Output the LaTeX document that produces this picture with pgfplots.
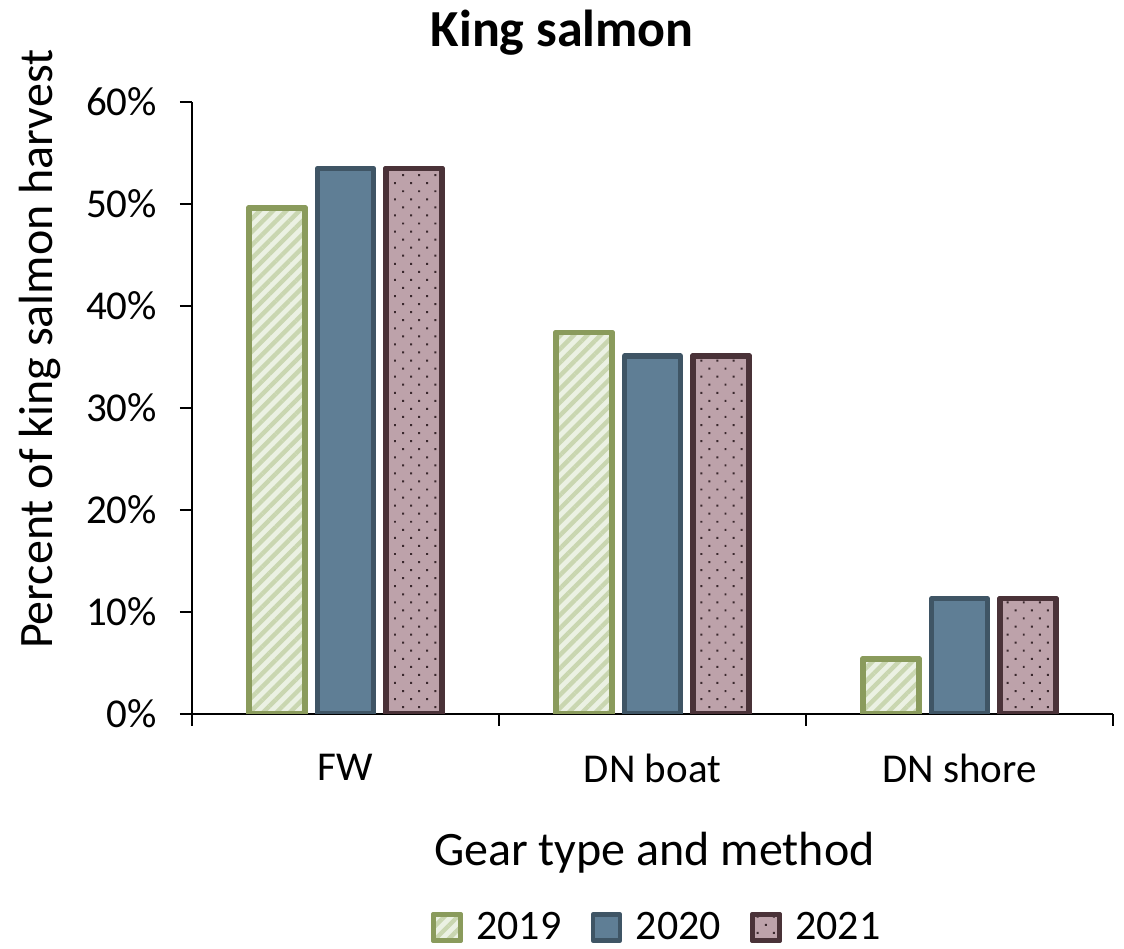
\documentclass[border=0pt]{standalone}
\usepackage{fontspec}
\setmainfont{Carlito}
\usepackage{pgfplots}
\pgfplotsset{compat=1.18}
\usetikzlibrary{patterns.meta}

\definecolor{gfill}{HTML}{EBF1E3}
\definecolor{gstripe}{HTML}{C9D6B0}
\definecolor{gline}{HTML}{8A9B5C}
\definecolor{bfill}{HTML}{5F7E95}
\definecolor{bline}{HTML}{3F5565}
\definecolor{pfill}{HTML}{BDA2AA}
\definecolor{pline}{HTML}{4A3238}
\definecolor{pdot}{HTML}{3A282D}

% 1 px of the reference = 0.5pt
\begin{document}
\begin{tikzpicture}
\begin{axis}[name=ax,
  scale only axis, width=460.5pt, height=306pt,
  xmin=-0.5, xmax=2.5, ymin=0, ymax=60,
  axis x line=bottom, axis y line=left,
  axis line style={-, line width=0.9pt, black},
  xtick={0,1,2}, xticklabels={FW, DN boat, DN shore},
  minor xtick={-0.5,0.5,1.5,2.5},
  major x tick style={draw=none},
  minor x tick style={black, line width=0.9pt},
  ytick={0,10,...,60},
  y tick style={black, line width=0.9pt},
  tick align=outside, major tick length=6pt, minor tick length=6pt,
  yticklabel={\pgfmathprintnumber{\tick}\%},
  /pgf/number format/assume math mode=true,
  ticklabel style={font=\fontsize{20.5}{24}\selectfont},
  xticklabel style={yshift=-10.5pt},
  yticklabel style={xshift=-8pt},
  xlabel={Gear type and method},
  xlabel style={font=\fontsize{24}{28}\selectfont, at={(axis description cs:0.502,-0.247)}, anchor=base},
  ylabel={Percent of king salmon harvest},
  ylabel style={font=\fontsize{24}{28}\selectfont, at={(axis description cs:-0.165,0.596)}, anchor=center},
  every axis title shift=0pt,
  title={King salmon},
  title style={font=\fontsize{26}{30}\selectfont\bfseries, at={(axis description cs:0.402,1.09)}, anchor=base, yshift=0pt},
  ybar, bar width=0.182,
  legend columns=3,
  legend style={draw=none, at={(axis description cs:0.505,-0.349)}, anchor=center,
    font=\fontsize{21}{25}\selectfont,
    nodes={inner xsep=3pt},
    /tikz/every even column/.append style={column sep=10pt}},
  legend image code/.code={\draw[#1, line width=2.2pt] (0pt,-6.5pt) rectangle (13.5pt,6.5pt);
    \path (-1.5pt,0pt) (17pt,0pt);},
]
\addplot[bar shift=-0.223, draw=gline, line width=2.7pt, line join=round,
  preaction={fill=gfill},
  pattern={Lines[angle=45,distance=4.7pt,line width=2.2pt]}, pattern color=gstripe]
  coordinates {(0,49.6) (1,37.4) (2,5.4)};
\addplot[bar shift=0, draw=bline, line width=2.7pt, line join=round, fill=bfill]
  coordinates {(0,53.5) (1,35.1) (2,11.3)};
\addplot[bar shift=0.223, draw=pline, line width=2.7pt, line join=round,
  preaction={fill=pfill},
  pattern={Dots[angle=45,distance=5.7pt,radius=0.7pt]}, pattern color=pdot]
  coordinates {(0,53.5) (1,35.1) (2,11.3)};
\legend{2019, 2020, 2021}
\end{axis}
\pgfresetboundingbox
\path ([xshift=-96pt,yshift=-117.5pt]ax.south west) rectangle ([xshift=5.5pt,yshift=51pt]ax.north east);
\end{tikzpicture}
\end{document}
